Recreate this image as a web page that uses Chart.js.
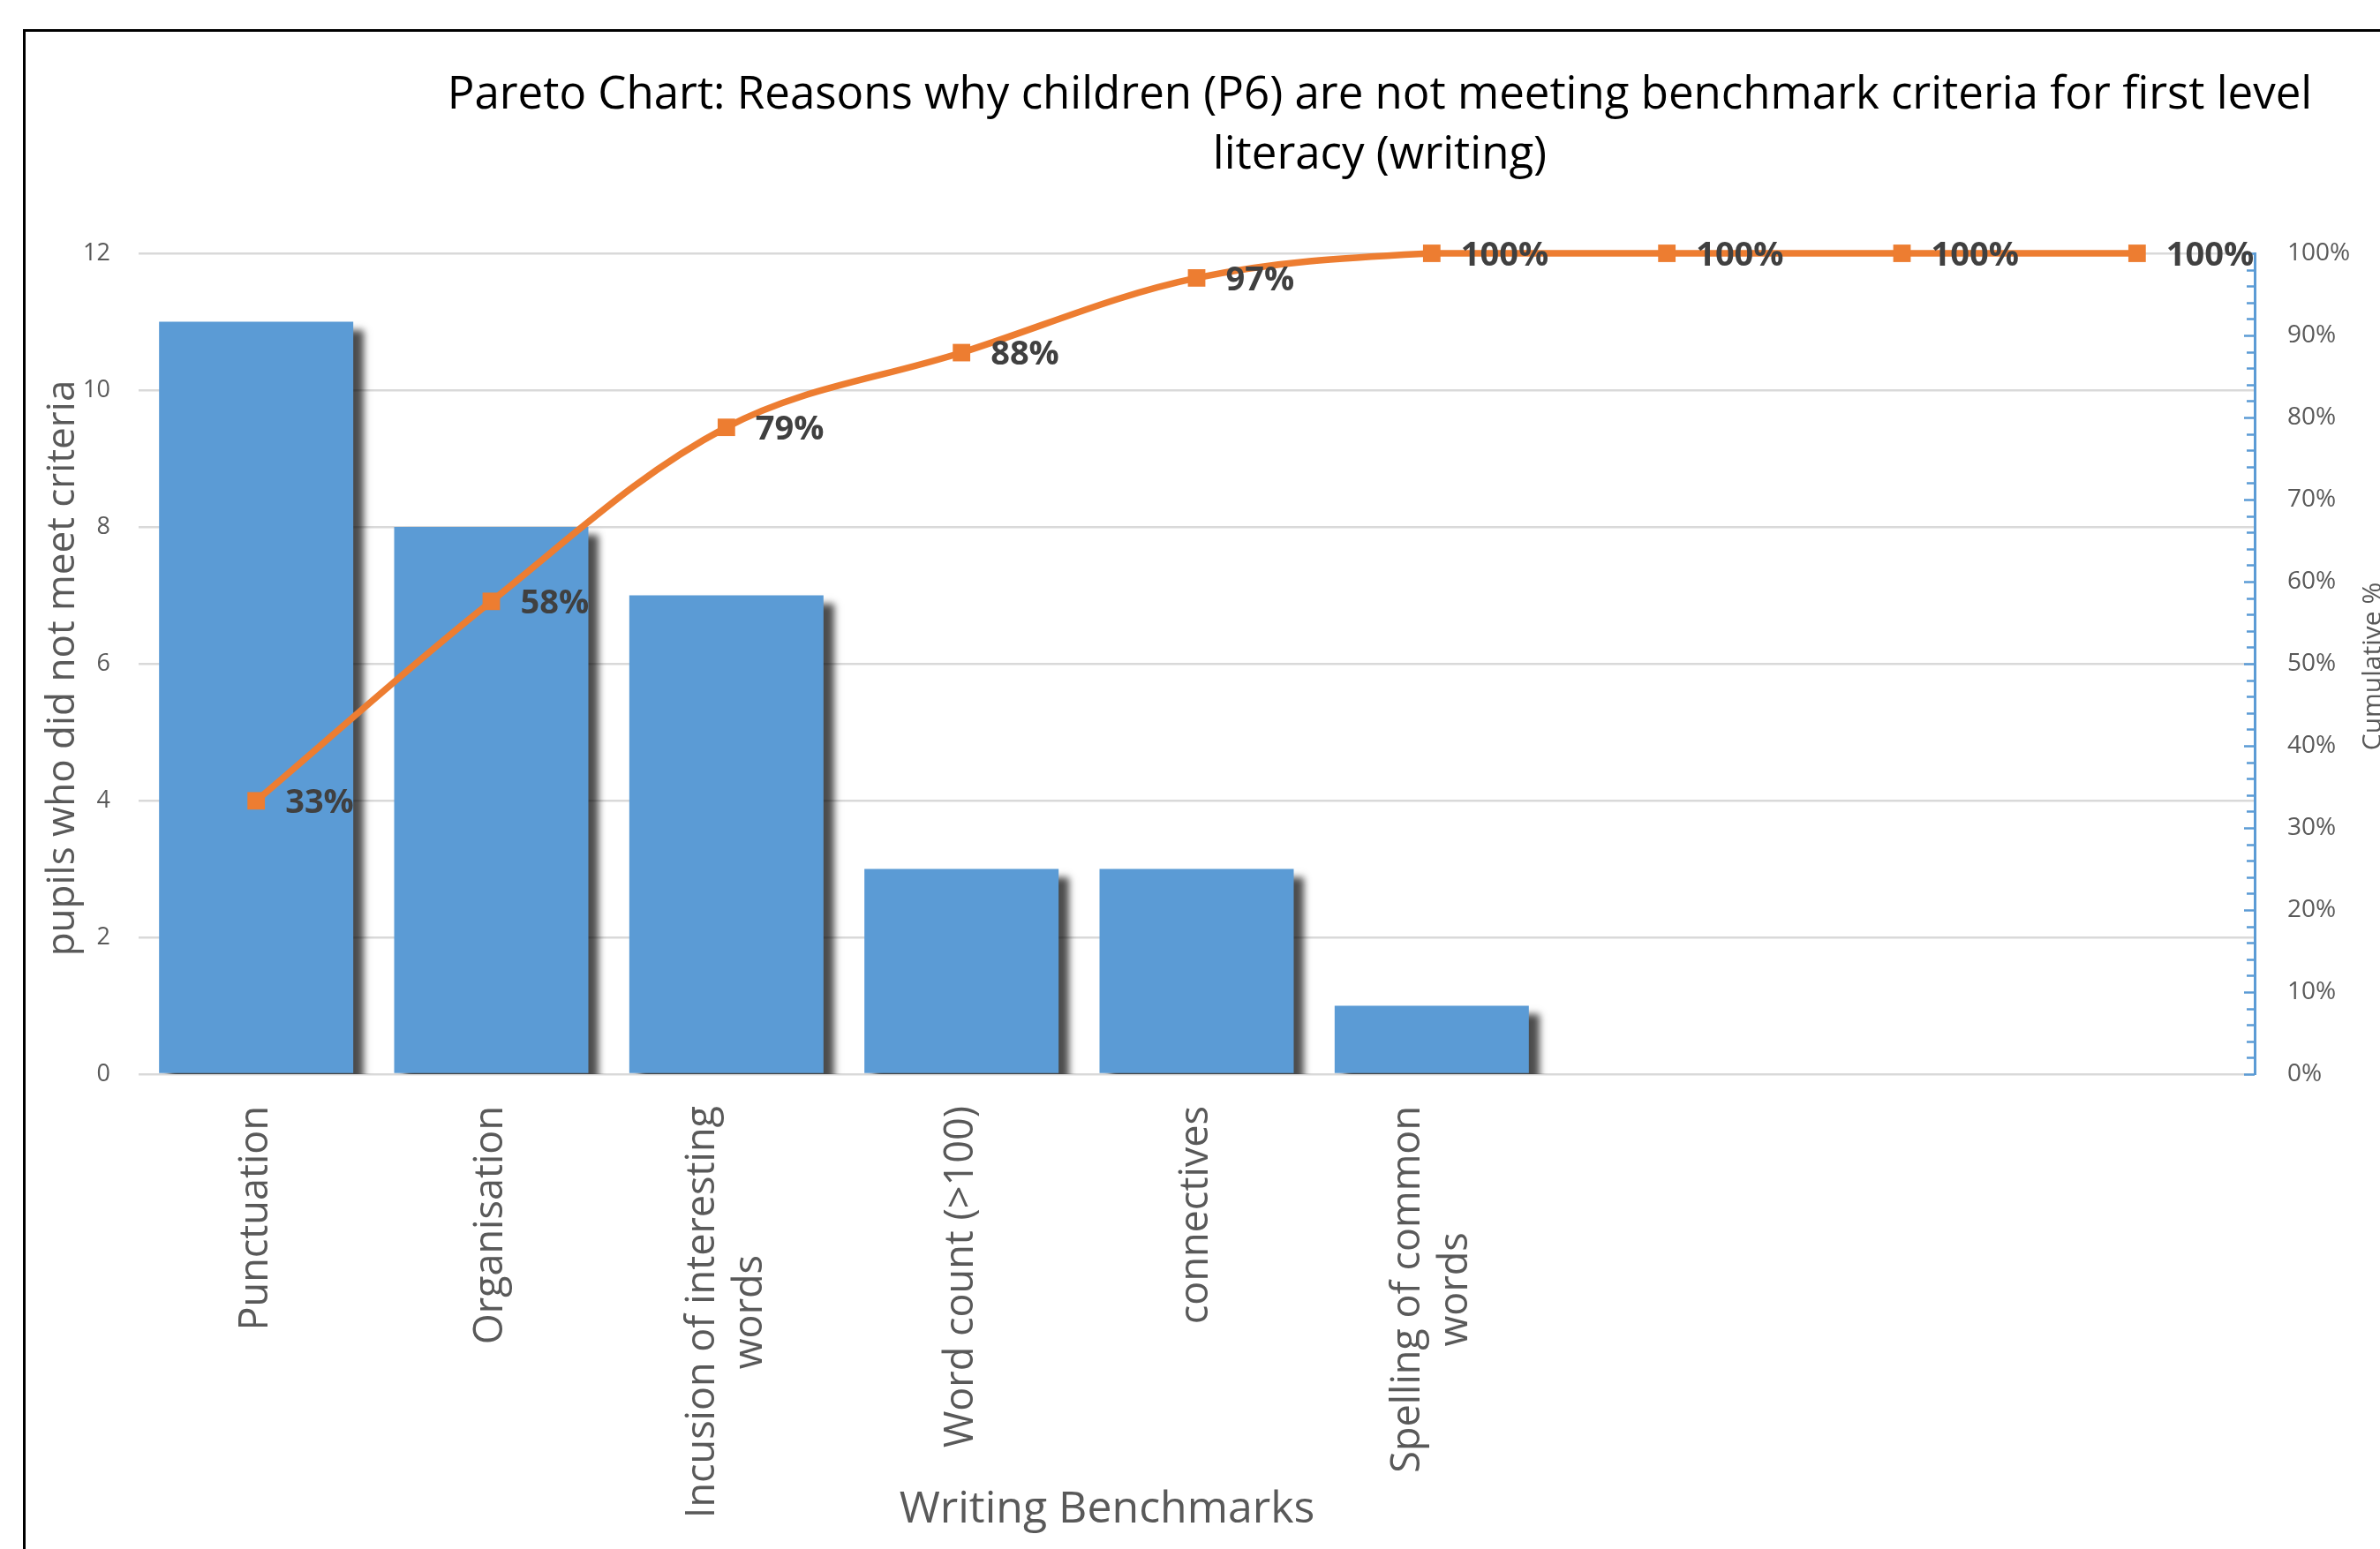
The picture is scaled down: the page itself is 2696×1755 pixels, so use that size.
<!DOCTYPE html>
<html><head><meta charset="utf-8">
<script src="https://cdn.jsdelivr.net/npm/chart.js@4.4.1/dist/chart.umd.min.js"></script>
<style>html,body{margin:0;padding:0;background:#fff;overflow:hidden}canvas{display:block}</style>
</head><body>
<canvas id="c" width="2696" height="1755"></canvas>
<script>
// ---------- data ----------
const categories = [
  ["Punctuation"],
  ["Organisation"],
  ["Incusion of interesting", "words"],
  ["Word count (>100)"],
  ["connectives"],
  ["Spelling of common", "words"],
  [""], [""], [""]
];
const pupilsNotMeeting = [11, 8, 7, 3, 3, 1, 0, 0, 0];
const cumulativePercent = [33.3, 57.6, 78.8, 87.9, 97.0, 100, 100, 100, 100];
const leftTicks = [0, 2, 4, 6, 8, 10, 12];
const rightTicks = [0, 10, 20, 30, 40, 50, 60, 70, 80, 90, 100];
const chartTitle = ["Pareto Chart: Reasons why children (P6) are not meeting benchmark criteria for first level", "literacy (writing)"];
const xAxisTitle = "Writing Benchmarks";
const yAxisTitle = "pupils who did not meet criteria";
const y2AxisTitle = "Cumulative %";

// ---------- styles ----------
const FONT = '"Open Sans", "Liberation Sans", sans-serif';
const GRAY = '#595959';
const BLUE = '#5B9BD5';
const ORANGE = '#ED7D31';

const decor = {
  id: 'decor',
  beforeDraw(chart) {
    const ctx = chart.ctx;
    ctx.save();
    ctx.fillStyle = '#fff';
    ctx.fillRect(0, 0, chart.width, chart.height);
    ctx.strokeStyle = '#000';
    ctx.lineWidth = 3;
    ctx.strokeRect(27.5, 34.5, chart.width + 100, chart.height + 100);
    ctx.restore();
  },
  beforeDatasetDraw(chart, args) {
    if (args.meta.type === 'bar') {
      const ctx = chart.ctx;
      ctx.save();
      ctx.shadowColor = 'rgba(0,0,0,0.7)';
      ctx.shadowBlur = 8;
      ctx.shadowOffsetX = 12;
      ctx.shadowOffsetY = 9;
    }
  },
  afterDatasetDraw(chart, args) {
    if (args.meta.type === 'bar') chart.ctx.restore();
  },
  afterDraw(chart) {
    const ctx = chart.ctx;
    const area = chart.chartArea;
    ctx.save();
    // title
    ctx.fillStyle = '#000';
    ctx.font = '51px ' + FONT;
    ctx.textAlign = 'center';
    ctx.textBaseline = 'alphabetic';
    ctx.fillText(chartTitle[0], 1563, 123);
    ctx.fillText(chartTitle[1], 1563, 191);

    // minor/major ticks on right axis (inside)
    const y2 = chart.scales.y2;
    ctx.strokeStyle = BLUE;
    ctx.lineWidth = 2.5;
    for (let v = 0; v <= 100; v += 2) {
      const py = Math.round(y2.getPixelForValue(v)) + 0.5;
      const len = (v % 10 === 0) ? 12 : 9;
      ctx.beginPath();
      ctx.moveTo(y2.left - len, py);
      ctx.lineTo(y2.left, py);
      ctx.stroke();
    }

    // x category labels (rotated, centre-aligned lines)
    const xs = chart.scales.x;
    ctx.fillStyle = GRAY;
    ctx.font = '45px ' + FONT;
    const lineH = 54;
    categories.forEach((lines, i) => {
      const cx = xs.getPixelForTick(i);
      const maxW = Math.max(...lines.map(l => ctx.measureText(l).width));
      ctx.save();
      ctx.translate(cx, area.bottom + 36);
      ctx.rotate(-Math.PI / 2);
      ctx.textAlign = 'center';
      ctx.textBaseline = 'middle';
      lines.forEach((l, k) => {
        const off = (k - (lines.length - 1) / 2) * lineH;
        ctx.fillText(l, -maxW / 2, off);
      });
      ctx.restore();
    });

    // axis titles
    ctx.fillStyle = GRAY;
    ctx.font = '50px ' + FONT;
    ctx.textAlign = 'center';
    ctx.textBaseline = 'alphabetic';
    ctx.fillText(xAxisTitle, 1254, 1725);

    ctx.save();
    ctx.font = '44px ' + FONT;
    ctx.translate(84, 757);
    ctx.rotate(-Math.PI / 2);
    ctx.fillText(yAxisTitle, 0, 0);
    ctx.restore();

    ctx.save();
    ctx.font = '30px ' + FONT;
    ctx.translate(2697, 755);
    ctx.rotate(-Math.PI / 2);
    ctx.fillText(y2AxisTitle, 0, 0);
    ctx.restore();

    // data labels of cumulative line
    const lineMeta = chart.getDatasetMeta(0);
    ctx.fillStyle = '#404040';
    ctx.font = 'bold 38px ' + FONT;
    ctx.textAlign = 'left';
    ctx.textBaseline = 'middle';
    lineMeta.data.forEach((pt, i) => {
      ctx.fillText(Math.round(cumulativePercent[i]) + '%', pt.x + 33, pt.y + 3);
    });
    ctx.restore();
  }
};

function build() {
  new Chart(document.getElementById('c'), {
    type: 'bar',
    data: {
      labels: categories,
      datasets: [
        {
          type: 'line',
          label: 'Cumulative %',
          data: cumulativePercent,
          yAxisID: 'y2',
          borderColor: ORANGE,
          borderWidth: 7.5,
          tension: 0.35,
          pointStyle: 'rect',
          pointRadius: 14,
          pointBackgroundColor: ORANGE,
          pointBorderWidth: 0,
          clip: false,
          order: 1
        },
        {
          type: 'bar',
          label: 'pupils',
          data: pupilsNotMeeting,
          yAxisID: 'y',
          backgroundColor: BLUE,
          borderWidth: 0,
          categoryPercentage: 1,
          barPercentage: 0.826,
          order: 2
        }
      ]
    },
    options: {
      responsive: false,
      animation: false,
      devicePixelRatio: 1,
      layout: { padding: { top: 287, left: 0, right: 0, bottom: 0 } },
      plugins: { legend: { display: false }, tooltip: { enabled: false }, title: { display: false } },
      scales: {
        x: {
          type: 'category',
          offset: true,
          grid: { display: false },
          border: { display: false },
          ticks: { display: false },
          afterFit(s) { s.height = 1755 - 1217; }
        },
        y: {
          position: 'left',
          min: 0, max: 12,
          afterBuildTicks(s) { s.ticks = leftTicks.map(v => ({ value: v })); },
          grid: { color: '#D9D9D9', lineWidth: 2.5, drawTicks: false },
          border: { display: false },
          ticks: { color: GRAY, font: { family: FONT, size: 27 }, padding: 32 },
          afterFit(s) { s.width = 157; }
        },
        y2: {
          position: 'right',
          min: 0, max: 100,
          afterBuildTicks(s) { s.ticks = rightTicks.map(v => ({ value: v })); },
          grid: { drawOnChartArea: false, drawTicks: false },
          border: { display: true, color: BLUE, width: 3 },
          ticks: { color: GRAY, font: { family: FONT, size: 28 }, padding: 37, callback: v => v + '%' },
          afterFit(s) { s.width = 2696 - 2554; }
        }
      }
    },
    plugins: [decor]
  });
}
const fl = ['48px "Open Sans"', 'bold 36px "Open Sans"'];
Promise.all(fl.map(f => document.fonts.load(f).catch(() => null))).then(build, build);
</script>
</body></html>
